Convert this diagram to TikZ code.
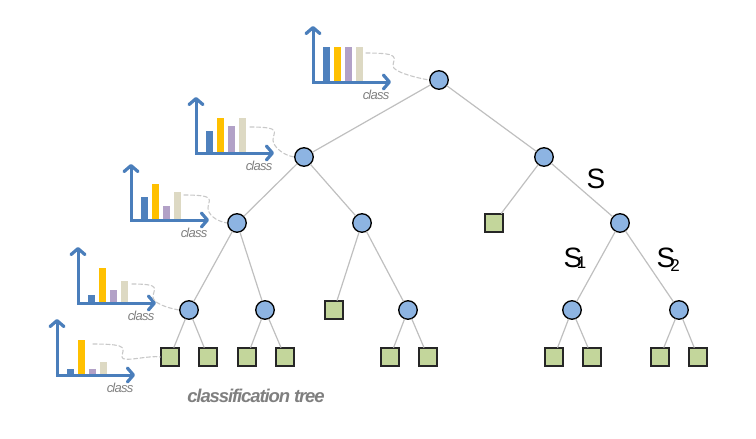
\documentclass[tikz,border=0pt]{standalone}
\usepackage{fontspec}
\setmainfont{Liberation Sans}
\usetikzlibrary{arrows.meta}
\definecolor{nodeblue}{RGB}{141,180,226}
\definecolor{leafgreen}{RGB}{195,214,155}
\definecolor{axisblue}{RGB}{74,126,187}
\definecolor{barblue}{RGB}{79,129,189}
\definecolor{baryellow}{RGB}{255,192,0}
\definecolor{barpurple}{RGB}{178,161,199}
\definecolor{barbeige}{RGB}{221,217,195}
\definecolor{edgegray}{RGB}{191,191,191}
\definecolor{linkgray}{RGB}{200,200,200}
\definecolor{labelgray}{RGB}{127,127,127}
\tikzset{barb/.tip={Straight Barb[length=6pt,width=14pt,line width=3.2pt,round]}}
\begin{document}
\begin{tikzpicture}[x=1pt,y=-1pt,cap=round,
    split/.style={circle,draw=black,fill=nodeblue,line width=1.3pt,minimum size=18.5pt,inner sep=0pt},
    leaf/.style={rectangle,draw=black!85,fill=leafgreen,line width=1.3pt,minimum size=18pt,inner sep=0pt},
    edge/.style={draw=edgegray,line width=1.2pt},
    axis/.style={draw=axisblue,line width=3pt,line cap=butt,barb-barb},
    link/.style={draw=linkgray,line width=1.1pt,dash pattern=on 4pt off 2.5pt},
    tag/.style={text=labelgray,inner sep=0pt,font=\itshape\fontsize{13}{13}\selectfont\addfontfeatures{LetterSpace=-6}}]
  \useasboundingbox (0,0) rectangle (756,439);

  % draw the split nodes
  \node[split] (root) at (439,80)  {};
  \node[split] (l)    at (304,157) {};
  \node[split] (r)    at (544,157) {};
  \node[split] (ll)   at (237,223) {};
  \node[split] (lr)   at (362,223) {};
  \node[split] (rr)   at (620,223) {};
  \node[split] (lll)  at (189,310) {};
  \node[split] (llr)  at (265,310) {};
  \node[split] (lrr)  at (408,310) {};
  \node[split] (rrl)  at (572,310) {};
  \node[split] (rrr)  at (679,310) {};

  % draw the leaves
  \node[leaf] (rl)  at (494,223) {};
  \node[leaf] (lrl) at (334,310) {};
  \foreach \n/\x in {lll1/170,lll2/208,llr1/247,llr2/285,lrr1/390,lrr2/428,
                     rrl1/554,rrl2/592,rrr1/660,rrr2/698}
    \node[leaf] (\n) at (\x,357) {};

  % lines from parent to child
  \foreach \a/\b in {root/l,root/r,l/ll,l/lr,r/rl,r/rr,ll/lll,ll/llr,lr/lrl,lr/lrr,
                     rr/rrl,rr/rrr,lll/lll1,lll/lll2,llr/llr1,llr/llr2,lrr/lrr1,lrr/lrr2,
                     rrl/rrl1,rrl/rrl2,rrr/rrr1,rrr/rrr2}
    \draw[edge] (\a) -- (\b);

  % draw the split labels
  \node[anchor=base west,inner sep=0pt,font=\fontsize{28}{28}\selectfont] (s) at (586.5,188) {S};
  \node[anchor=base west,inner sep=0pt,font=\fontsize{28}{28}\selectfont] (s1) at (563.5,267)
      {S\kern-5.5pt\raisebox{-1pt}{\fontsize{17}{17}\selectfont 1}};
  \node[anchor=base west,inner sep=0pt,font=\fontsize{28}{28}\selectfont] (s2) at (656.5,267)
      {S\kern-5pt\raisebox{-4pt}{\fontsize{17}{17}\selectfont 2}};

  % draw the class histograms next to the nodes
  \foreach \ox/\oy/\ha/\hb/\hc/\hd/\sx/\sy/\run/\target in {
      % root
      313/82/35/35/35/35/366/53/27/root,
      % first level
      196/153/22/35/27/35/250/127/23/l,
      % second level
      131/220/23/36/14/28/184/195/24/ll,
      % third level
      78/303/8/35/13/22/132/284/21/lll,
      % a leaf
      57/375/6/35/6/13/93/344/29/lll1} {
        % the bars
        \fill[barblue]   (\ox+10,\oy) rectangle ++(7,-\ha);
        \fill[baryellow] (\ox+21,\oy) rectangle ++(7,-\hb);
        \fill[barpurple] (\ox+32,\oy) rectangle ++(7,-\hc);
        \fill[barbeige]  (\ox+43,\oy) rectangle ++(7,-\hd);
        % the axes
        \draw[axis] (\ox,\oy-56) -- (\ox,\oy) -- (\ox+78,\oy);
        \node[tag] (class-\target) at (\ox+63,\oy+13) {class};
        % the dashed link to the node
        \draw[link] (\sx,\sy) .. controls +(\run+10,0) and +(0,-8) .. ++(\run,13)
              .. controls +(0,6) and +(-12,-2) .. (\target.west);
  }

  % the caption
  \node[text=labelgray,font=\bfseries\itshape\fontsize{18.5}{18.5}\selectfont\addfontfeatures{LetterSpace=-6}]
      (caption) at (256,396) {classification tree};
\end{tikzpicture}
\end{document}
